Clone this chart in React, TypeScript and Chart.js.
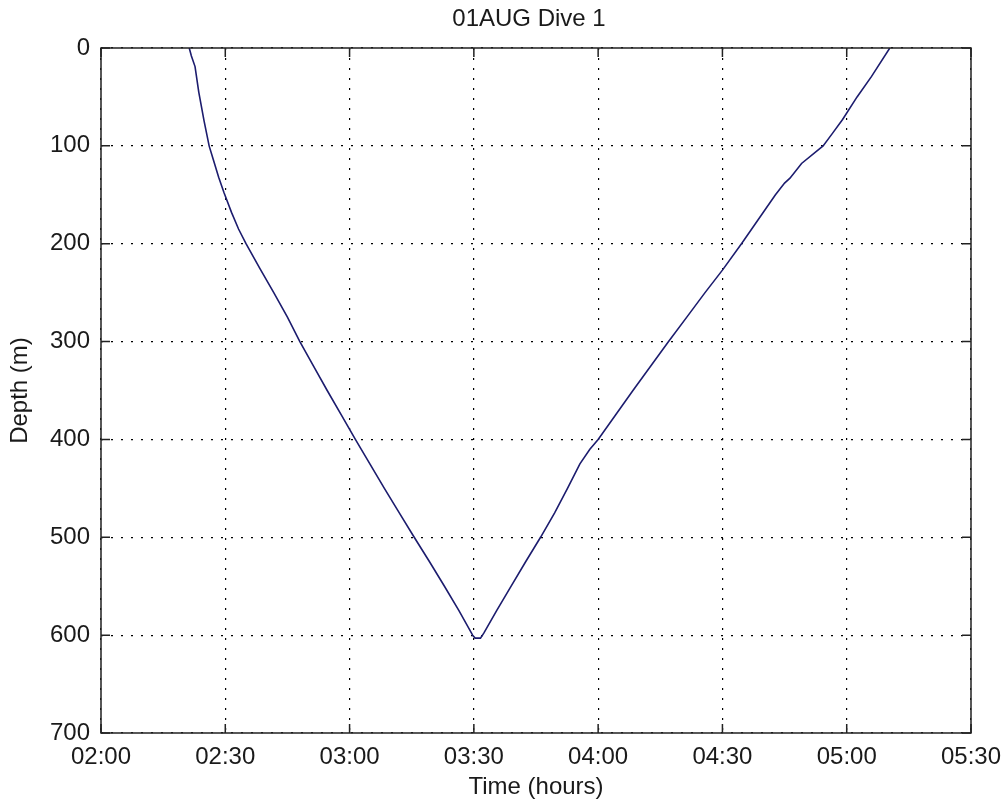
import React, { useEffect, useRef } from 'react';
import { Chart, registerables } from 'chart.js';

Chart.register(...registerables);

const titleText = '01AUG Dive 1';
const xAxisTitle = 'Time (hours)';
const yAxisTitle = 'Depth (m)';

// x values are minutes after 02:00
const xTickValues = [0, 30, 60, 90, 120, 150, 180, 210];
const xTickLabels = ['02:00', '02:30', '03:00', '03:30', '04:00', '04:30', '05:00', '05:30'];
const yTickValues = [0, 100, 200, 300, 400, 500, 600, 700];
const yTickLabels = ['0', '100', '200', '300', '400', '500', '600', '700'];

const timeMinutes = [
  21.3, 21.8, 22.7, 23.6, 24.9, 26.1, 27.1, 28.4, 29.7, 31.5, 33.2, 35.0,
  38.3, 41.7, 45.0, 48.0, 51.3, 54.6, 58.0, 61.4, 64.9, 68.4, 72.0, 75.6,
  79.3, 82.9, 86.4, 89.7, 90.3, 91.6, 92.4, 95.5, 99.0, 102.5, 106.1, 109.5,
  112.6, 115.6, 118.0, 120.0, 124.2, 128.4, 132.7, 137.0, 141.4, 145.8, 150.0,
  154.6, 158.7, 162.8, 165.0, 166.3, 169.1, 174.3, 176.6, 179.0, 182.5, 186.0,
  190.4,
];
const depthMeters = [
  0, 8, 19, 45, 75, 100, 114, 132, 148, 168, 185, 200,
  225, 250, 275, 300, 325, 350, 375, 400, 425, 450, 475, 500,
  525, 550, 575, 600, 603, 603, 598, 575, 550, 525, 500, 475,
  450, 425, 410, 400, 375, 350, 325, 300, 275, 250, 227,
  200, 175, 150, 138, 133, 118, 100, 87, 73, 50, 29,
  0,
];

const FONT = '"Liberation Sans", Arial, sans-serif';
const TEXT = '#1a1a1a';

const framePlugin = {
  id: 'matlabFrame',
  afterDraw(chart: any) {
    const { ctx, chartArea: a, scales } = chart;
    ctx.save();
    ctx.strokeStyle = '#222';
    ctx.lineWidth = 1.5;
    ctx.strokeRect(a.left, a.top, a.right - a.left, a.bottom - a.top);
    const tl = 9;
    ctx.beginPath();
    xTickValues.forEach((v) => {
      const px = scales.x.getPixelForValue(v);
      ctx.moveTo(px, a.bottom);
      ctx.lineTo(px, a.bottom - tl);
      ctx.moveTo(px, a.top);
      ctx.lineTo(px, a.top + tl);
    });
    yTickValues.forEach((v) => {
      const py = scales.y.getPixelForValue(v);
      ctx.moveTo(a.left, py);
      ctx.lineTo(a.left + tl, py);
      ctx.moveTo(a.right, py);
      ctx.lineTo(a.right - tl, py);
    });
    ctx.stroke();
    ctx.fillStyle = TEXT;
    ctx.font = `24px ${FONT}`;
    ctx.textAlign = 'center';
    ctx.textBaseline = 'middle';
    ctx.fillText(titleText, (a.left + a.right) / 2 - 7, 19);
    ctx.restore();
  },
};

export default function App() {
  const canvasRef = useRef<HTMLCanvasElement | null>(null);

  useEffect(() => {
    if (!canvasRef.current) return;
    const points = timeMinutes.map((t, i) => ({ x: t, y: depthMeters[i] }));
    const chart = new Chart(canvasRef.current, {
      type: 'line',
      data: {
        datasets: [
          {
            data: points,
            borderColor: '#1c1c6e',
            borderWidth: 1.6,
            pointRadius: 0,
            tension: 0,
            fill: false,
          },
        ],
      },
      plugins: [framePlugin],
      options: {
        animation: false,
        responsive: false,
        layout: { padding: { top: 48, right: 34, left: 0, bottom: 0 } },
        plugins: {
          legend: { display: false },
          tooltip: { enabled: false },
          title: { display: false },
        },
        scales: {
          x: {
            type: 'linear',
            min: 0,
            max: 210,
            afterBuildTicks: (s: any) => {
              s.ticks = xTickValues.map((v) => ({ value: v }));
            },
            afterFit: (s: any) => {
              s.height = 73;
              s.paddingLeft = 0;
              s.paddingRight = 0;
            },
            ticks: {
              autoSkip: false,
              maxRotation: 0,
              padding: 10,
              color: TEXT,
              font: { family: FONT, size: 24 },
              callback: (v: any) => xTickLabels[xTickValues.indexOf(Number(v))],
            },
            grid: { color: '#000', lineWidth: 1.2, drawTicks: false },
            border: { display: false, dash: [2, 8] },
            title: {
              display: true,
              text: xAxisTitle,
              color: TEXT,
              font: { family: FONT, size: 24 },
              padding: { top: 0, bottom: 4 },
            },
          },
          y: {
            type: 'linear',
            reverse: true,
            min: 0,
            max: 700,
            afterBuildTicks: (s: any) => {
              s.ticks = yTickValues.map((v) => ({ value: v }));
            },
            afterFit: (s: any) => {
              s.width = 101;
              s.paddingTop = 0;
              s.paddingBottom = 0;
            },
            ticks: {
              autoSkip: false,
              padding: 11,
              color: TEXT,
              font: { family: FONT, size: 24 },
              callback: (v: any) => yTickLabels[yTickValues.indexOf(Number(v))],
            },
            grid: { color: '#000', lineWidth: 1.2, drawTicks: false },
            border: { display: false, dash: [2, 8] },
            title: {
              display: true,
              text: yAxisTitle,
              color: TEXT,
              font: { family: FONT, size: 24 },
              padding: { top: 6, bottom: 0 },
            },
          },
        },
      },
    });
    return () => chart.destroy();
  }, []);

  return (
    <div style={{ position: 'fixed', left: 0, top: 0, width: 1005, height: 806, background: '#fff' }}>
      <canvas ref={canvasRef} width={1005} height={806} style={{ display: 'block' }} />
    </div>
  );
}
